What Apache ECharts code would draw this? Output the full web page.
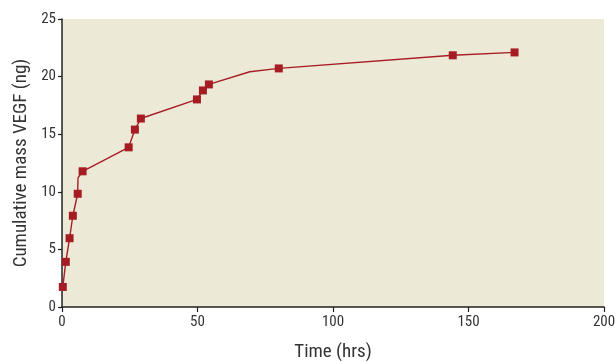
<!DOCTYPE html>
<html>
<head>
<meta charset="utf-8">
<script src="https://cdn.jsdelivr.net/npm/echarts@6/dist/echarts.min.js"></script>
<style>
html,body{margin:0;padding:0;background:#fff;}
#c{width:615px;height:362px;}
</style>
</head>
<body>
<div id="c"></div>
<script>
// Measured points (square markers)
var timeHrs = [0.3, 1.4, 2.8, 4.0, 5.8, 7.6, 24.6, 26.9, 29.1, 49.8, 52.0, 54.2, 80.0, 144.2, 167.0];
var massNg  = [1.74, 3.92, 5.97, 7.92, 9.83, 11.78, 13.86, 15.40, 16.36, 18.02, 18.80, 19.32, 20.71, 21.85, 22.10];
// Connecting curve vertices (includes unmarked bends)
var curveTime = [0.3, 1.4, 2.8, 4.0, 5.8, 5.9, 7.6, 24.6, 26.9, 29.1, 49.8, 52.0, 54.2, 69.3, 80.0, 144.2, 167.0];
var curveMass = [1.74, 3.92, 5.97, 7.92, 9.83, 11.2, 11.78, 13.86, 15.40, 16.36, 18.02, 18.80, 19.32, 20.42, 20.71, 21.85, 22.10];
var xTicks = [0, 50, 100, 150, 200];
var yTicks = [0, 5, 10, 15, 20, 25];

var font = '"Roboto Condensed", "DejaVu Sans Condensed", sans-serif';
var chart = echarts.init(document.getElementById('c'), null, {renderer: 'canvas'});
chart.setOption({
  animation: false,
  grid: {left: 62, right: 11, top: 19, bottom: 55, show: true, backgroundColor: '#ece9d7', borderWidth: 0, containLabel: false, outerBoundsMode: 'none'},
  xAxis: {
    type: 'value', min: xTicks[0], max: xTicks[xTicks.length - 1], interval: 50,
    name: 'Time (hrs)', nameLocation: 'middle', nameGap: 36,
    nameTextStyle: {fontFamily: font, fontSize: 19, color: '#333'},
    axisLine: {show: true, lineStyle: {color: '#222', width: 1.5}},
    axisTick: {show: true, length: 5, lineStyle: {color: '#222', width: 1.2}},
    axisLabel: {fontFamily: font, fontSize: 15, color: '#333', margin: 8},
    splitLine: {show: false}
  },
  yAxis: {
    type: 'value', min: yTicks[0], max: yTicks[yTicks.length - 1], interval: 5,
    name: 'Cumulative mass VEGF (ng)', nameLocation: 'middle', nameGap: 30,
    nameTextStyle: {fontFamily: font, fontSize: 19, color: '#333'},
    axisLine: {show: true, lineStyle: {color: '#222', width: 1.5}},
    axisTick: {show: true, length: 4, lineStyle: {color: '#222', width: 1.2}},
    axisLabel: {fontFamily: font, fontSize: 15, color: '#333', margin: 6},
    splitLine: {show: false}
  },
  series: [
    {
      type: 'line',
      data: curveTime.map(function (t, i) { return [t, curveMass[i]]; }),
      showSymbol: false, smooth: false,
      lineStyle: {color: '#a81c24', width: 1.4},
      z: 2
    },
    {
      type: 'scatter',
      data: timeHrs.map(function (t, i) { return [t, massNg[i]]; }),
      symbol: 'rect', symbolSize: 8,
      itemStyle: {color: '#a51d23', opacity: 1},
      z: 3
    }
  ]
});
</script>
</body>
</html>
